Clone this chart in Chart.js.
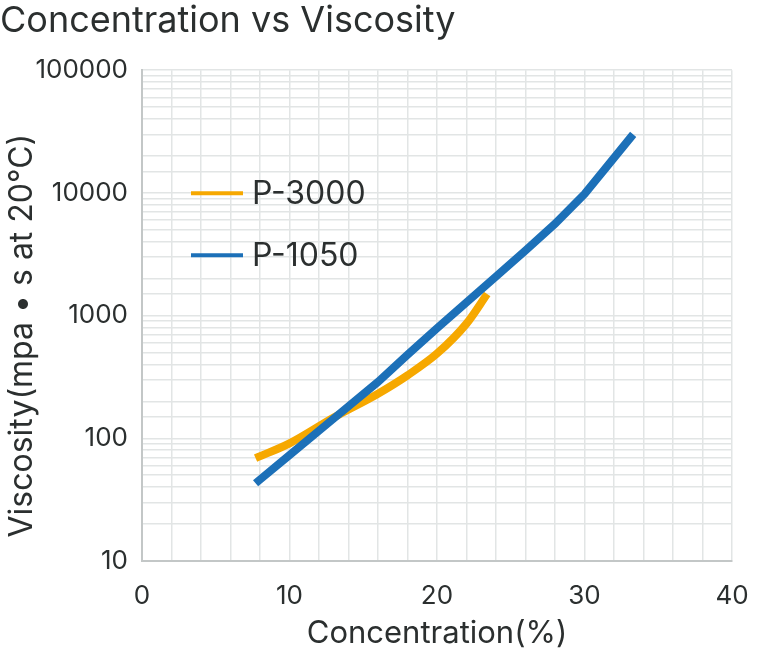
<!DOCTYPE html>
<html>
<head>
<meta charset="utf-8">
<title>Concentration vs Viscosity</title>
<script src="https://cdn.jsdelivr.net/npm/chart.js@4/dist/chart.umd.min.js"></script>
<style>
    html, body { margin: 0; padding: 0; background: #fff; overflow: hidden; }
    #wrap { position: relative; width: 760px; height: 648px; }
</style>
</head>
<body>
<div id="wrap"><canvas id="chart"></canvas></div>
<script>
// Data
const seriesNames = ['P-3000', 'P-1050'];
const seriesColors = ['#f6a800', '#1c70b8'];

const p3000Conc = [7.7, 10, 13, 16, 18, 20, 22, 23.4];
const p3000Visc = [69, 91, 148, 231, 326, 490, 860, 1500];

const p1050Conc = [7.7, 10, 13, 16, 18, 20, 24, 26, 28, 30, 33.3];
const p1050Visc = [43, 73, 145, 288, 480, 790, 2080, 3400, 5600, 9800, 30000];

const xTickLabels = [0, 10, 20, 30, 40];
const yTickLabels = [10, 100, 1000, 10000, 100000];

const FONT = 'Inter, "Noto Sans", sans-serif';
const TEXT = '#2b2f2f';

function toPoints(xs, ys) {
    return xs.map((x, i) => ({ x: x, y: ys[i] }));
}

// Legend inside the plot (top left) and the y axis title, which sits
// a little below the middle of the axis in the original
const extras = {
    id: 'extras',
    afterDatasetsDraw(chart) {
        const ctx = chart.ctx;
        const area = chart.chartArea;
        ctx.save();
        chart.data.datasets.forEach((ds, i) => {
            const y = area.top + 123 + i * 62;
            ctx.strokeStyle = ds.borderColor;
            ctx.lineWidth = 4;
            ctx.beginPath();
            ctx.moveTo(area.left + 49, y);
            ctx.lineTo(area.left + 101, y);
            ctx.stroke();
            ctx.fillStyle = TEXT;
            ctx.font = '32px ' + FONT;
            ctx.textBaseline = 'middle';
            ctx.fillText(ds.label, area.left + 110, y + 1);
        });

        ctx.translate(22, (area.top + area.bottom) / 2 + 20);
        ctx.rotate(-Math.PI / 2);
        ctx.font = '32px ' + FONT;
        ctx.textAlign = 'center';
        ctx.textBaseline = 'middle';
        ctx.fillText('Viscosity(mpa • s at 20°C)', 0, 0);
        ctx.restore();
    }
};

new Chart(document.getElementById('chart'), {
    type: 'line',
    data: {
        datasets: [
            {
                label: seriesNames[0],
                data: toPoints(p3000Conc, p3000Visc),
                borderColor: seriesColors[0],
                borderWidth: 8,
                pointRadius: 0,
                cubicInterpolationMode: 'monotone',
                order: 1
            },
            {
                label: seriesNames[1],
                data: toPoints(p1050Conc, p1050Visc),
                borderColor: seriesColors[1],
                borderWidth: 8,
                pointRadius: 0,
                tension: 0,
                order: 0
            }
        ]
    },
    options: {
        responsive: true,
        maintainAspectRatio: false,
        animation: false,
        layout: { padding: { left: 0, right: 28, top: 0, bottom: -4 } },
        plugins: {
            legend: { display: false },
            tooltip: { enabled: false },
            title: {
                display: true,
                text: 'Concentration vs Viscosity',
                align: 'start',
                color: TEXT,
                font: { family: FONT, size: 36, weight: 'normal' },
                padding: { top: 0, bottom: 27 }
            }
        },
        scales: {
            x: {
                type: 'linear',
                min: 0,
                max: 40,
                afterFit(scale) {
                    scale.height = 91;
                    // let the "40" label hang into the right margin
                    scale.paddingLeft = 0;
                    scale.paddingRight = 0;
                },
                ticks: {
                    stepSize: 2,
                    autoSkip: false,
                    maxRotation: 0,
                    padding: 20,
                    color: TEXT,
                    font: { family: FONT, size: 26 },
                    callback: v => xTickLabels.includes(v) ? String(v) : ''
                },
                grid: { color: '#e2e5e5', lineWidth: 1.5, drawTicks: false },
                border: { color: '#c3c7c7', width: 2 },
                title: {
                    display: true,
                    text: 'Concentration(%)',
                    color: TEXT,
                    font: { family: FONT, size: 31 },
                    padding: { top: 0, bottom: 0 }
                }
            },
            y: {
                type: 'logarithmic',
                min: 10,
                max: 100000,
                afterFit(scale) { scale.width = 142; },
                ticks: {
                    autoSkip: false,
                    padding: 14,
                    color: TEXT,
                    font: { family: FONT, size: 26 },
                    callback: v => yTickLabels.includes(Math.round(v)) ? String(Math.round(v)) : ''
                },
                grid: { color: '#e2e5e5', lineWidth: 1.5, drawTicks: false },
                border: { color: '#c3c7c7', width: 2 },
                title: { display: false }
            }
        }
    },
    plugins: [extras]
});
</script>
</body>
</html>
